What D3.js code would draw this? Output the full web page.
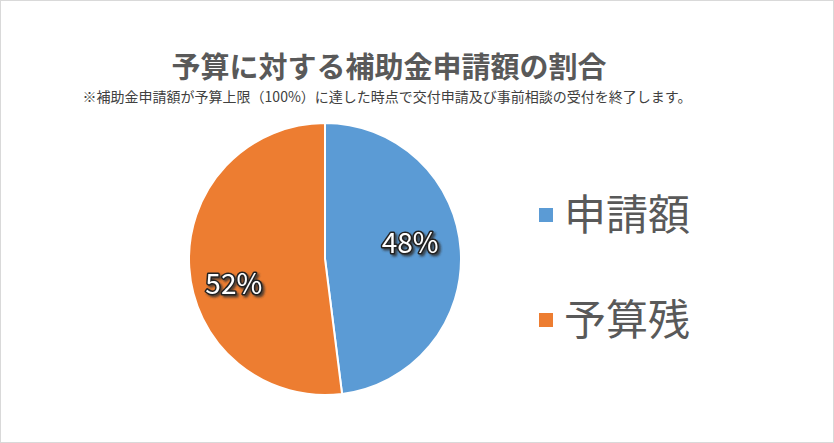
<!DOCTYPE html><html><head><meta charset="utf-8"><script src="https://cdn.jsdelivr.net/npm/d3@7"></script>
<style>body{margin:0;background:#fff}text{font-family:"Noto Sans CJK JP",sans-serif}</style></head><body><svg id="c" width="834" height="443"></svg>
<script>
const categories=["申請額","予算残"];
const values=[48,52];
const colors=["#5B9BD5","#ED7D31"];
const svg=d3.select("#c");
const f=svg.append("defs").append("filter").attr("id","sh");
f.append("feDropShadow").attr("dx",2).attr("dy",2).attr("stdDeviation",1).attr("flood-color","#333").attr("flood-opacity",0.8);
svg.append("rect").attr("x",0.5).attr("y",0.5).attr("width",833).attr("height",442).attr("fill","#fff").attr("stroke","#d9d9d9");
svg.append("text").attr("x",389).attr("y",78).attr("text-anchor","middle").attr("font-size",29).attr("font-weight","bold").attr("fill","#595959").text("予算に対する補助金申請額の割合");
svg.append("text").attr("x",387).attr("y",102).attr("text-anchor","middle").attr("font-size",14).attr("fill","#404040").text("※補助金申請額が予算上限（100%）に達した時点で交付申請及び事前相談の受付を終了します。");
const cx=325,cy=259,r=136;
const pie=d3.pie().sort(null).value(d=>d)(values);
const arc=d3.arc().innerRadius(0).outerRadius(r);
const g=svg.append("g").attr("transform",`translate(${cx},${cy})`);
g.selectAll("path").data(pie).join("path").attr("d",arc).attr("fill",(d,i)=>colors[i]).attr("stroke","#fff").attr("stroke-width",2);
const la=d3.arc().innerRadius(r*0.65).outerRadius(r*0.65);
const dys=[-10,20];
const lab=g.selectAll("g.l").data(pie).join("g").attr("transform",(d,i)=>{const c=la.centroid(d);return `translate(${c[0]-3},${c[1]+dys[i]})`;});
lab.append("text").attr("text-anchor","middle").attr("dy","0.35em").attr("font-family","Liberation Sans,Arial").attr("font-size",28).attr("fill","#fff").attr("stroke","#222").attr("stroke-width",3).attr("stroke-linejoin","round").attr("paint-order","stroke").attr("filter","url(#sh)").text(d=>d.data+"%");
const lg=svg.selectAll("g.lg").data(categories).join("g").attr("transform",(d,i)=>`translate(539,${215+i*105})`);
lg.append("rect").attr("x",0).attr("y",-7).attr("width",14).attr("height",14).attr("fill",(d,i)=>colors[i]);
lg.append("text").attr("x",25).attr("dy","0.36em").attr("font-size",42).attr("fill","#595959").text(d=>d);
</script></body></html>
